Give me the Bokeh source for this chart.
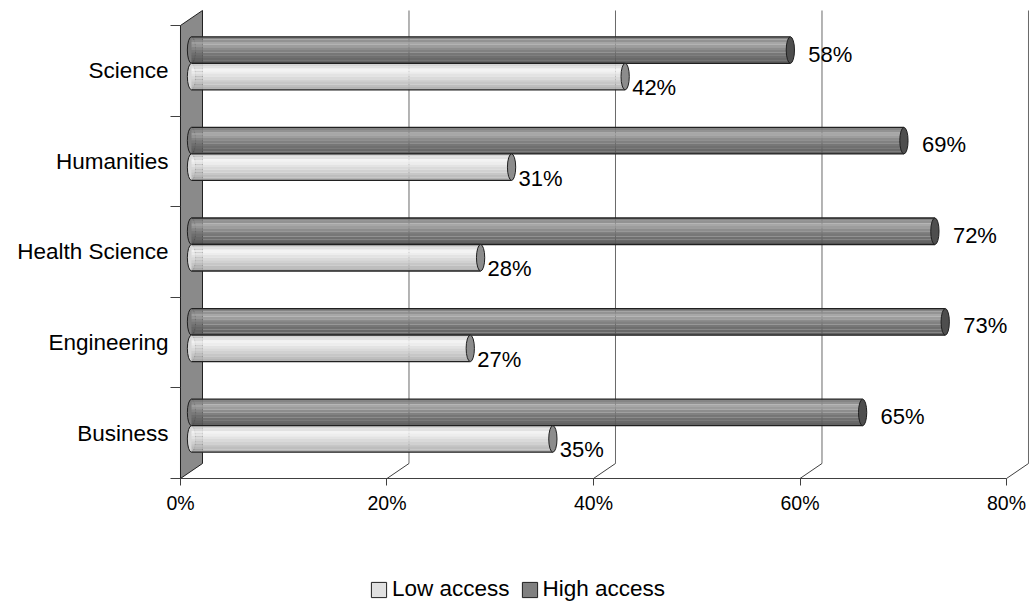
from bokeh.plotting import figure
from bokeh.models import (Range1d, FixedTicker, PrintfTickFormatter, Legend,
                          LegendItem, LinearAxis)
from bokeh.embed import file_html
from bokeh.resources import INLINE
from bokeh.core.properties import value

# ---- data ----
categories = ["Business", "Engineering", "Health Science", "Humanities", "Science"]
low_access = [35, 27, 28, 31, 42]
high_access = [65, 73, 72, 69, 58]
x_ticks = [0, 20, 40, 60, 80]
series_names = ["Low access", "High access"]

# ---- style ----
FONT = "Liberation Sans"
DX = 2.13       # depth offset (percent units)
DY = 0.1656     # depth offset (category units)
BAR_H = 0.2925  # one cylinder's thickness (category units)
CAP_W = 0.80    # cap ellipse width (percent units)
N = len(categories)
NAN = float("nan")

high_stripes = ["#7c7c7c", "#8a8a8a", "#a0a0a0", "#969696", "#848484",
                "#777777", "#6d6d6d", "#656565", "#5e5e5e", "#575757"]
low_stripes = ["#d2d2d2", "#e0e0e0", "#f2f2f2", "#ececec", "#e1e1e1",
               "#d7d7d7", "#cdcdcd", "#c3c3c3", "#b9b9b9", "#afafaf"]

p = figure(width=1030, height=603, output_backend="svg", toolbar_location=None,
           x_range=Range1d(-17.433, 82.324), y_range=Range1d(-1.8797, 4.7759),
           x_axis_location=None, y_axis_location=None, min_border=0)
p.grid.visible = False
p.outline_line_color = None
p.background_fill_color = "white"

# ---- axes ----
xa = LinearAxis(fixed_location=-0.5)
xa.ticker = FixedTicker(ticks=x_ticks)
xa.formatter = PrintfTickFormatter(format="%d%%")
xa.bounds = (x_ticks[0], x_ticks[-1])
xa.major_tick_out = 7
xa.major_tick_in = 0
xa.minor_tick_out = 0
xa.minor_tick_in = 0
xa.axis_line_color = "#404040"
xa.major_tick_line_color = "#404040"
xa.major_label_text_font = FONT
xa.major_label_text_font_size = "19.5px"
xa.major_label_text_color = "black"
xa.major_label_standoff = 7
p.add_layout(xa, "below")

ya = LinearAxis(fixed_location=0)
ya.ticker = FixedTicker(ticks=list(range(N)), minor_ticks=[i - 0.5 for i in range(N + 1)])
ya.major_label_overrides = {i: c for i, c in enumerate(categories)}
ya.bounds = (-0.5, N - 0.5)
ya.major_tick_out = 0
ya.major_tick_in = 0
ya.minor_tick_out = 10
ya.minor_tick_in = 0
ya.axis_line_color = "#202020"
ya.minor_tick_line_color = "#404040"
ya.major_label_text_font = FONT
ya.major_label_text_font_size = "22.5px"
ya.major_label_text_color = "black"
ya.major_label_standoff = 2
p.add_layout(ya, "left")

# ---- 3D wall & gridlines ----
p.patch(x=[0, DX, DX, 0], y=[N - 0.5, N - 0.5 + DY, -0.5 + DY, -0.5],
        fill_color="#8a8a8a", line_color="#202020", line_width=1)
gx = [t + DX for t in x_ticks[1:]]
p.segment(x0=gx, y0=[-0.5 + DY] * len(gx), x1=gx, y1=[N - 0.5 + DY] * len(gx),
          line_color="#6a6a6a", line_width=1)
p.segment(x0=x_ticks[1:], y0=[-0.5] * len(gx), x1=gx, y1=[-0.5 + DY] * len(gx),
          line_color="#404040", line_width=1)

# ---- cylinders ----
def cylinders(vals, centers, stripes, cap_color, body_color):
    x0 = DX / 2
    ends = [v + DX / 2 for v in vals]
    p.ellipse(x=[x0] * len(vals), y=centers, width=CAP_W, height=BAR_H,
              fill_color=body_color, line_color="#202020", line_width=1)
    k = len(stripes)
    sh = BAR_H / k
    for i, col in enumerate(stripes):
        ys = [c + BAR_H / 2 - (i + 0.5) * sh for c in centers]
        p.hbar(y=ys, height=sh * 1.04, left=x0, right=ends,
               fill_color=col, line_color=None, fill_alpha=0.93)
    p.segment(x0=[x0] * len(vals), y0=[c + BAR_H / 2 for c in centers], x1=ends,
              y1=[c + BAR_H / 2 for c in centers], line_color="#202020", line_width=1.3)
    p.segment(x0=[x0] * len(vals), y0=[c - BAR_H / 2 for c in centers], x1=ends,
              y1=[c - BAR_H / 2 for c in centers], line_color="#202020", line_width=1.3)
    p.ellipse(x=ends, y=centers, width=CAP_W, height=BAR_H,
              fill_color=cap_color, line_color="#202020", line_width=1)

high_centers = [i + DY / 2 + BAR_H / 2 for i in range(N)]
low_centers = [i + DY / 2 - BAR_H / 2 for i in range(N)]
cylinders(high_access, high_centers, high_stripes, "#4e4e4e", "#7a7a7a")
cylinders(low_access, low_centers, low_stripes, "#8c8c8c", "#d8d8d8")

# ---- data labels ----
p.text(x=[v + DX / 2 for v in high_access], y=high_centers,
       text=[f"{v}%" for v in high_access], x_offset=18, y_offset=4,
       text_baseline="middle", text_align="left", text_font=value(FONT),
       text_font_size="22px", text_color="black")
p.text(x=[v + DX / 2 for v in low_access], y=low_centers,
       text=[f"{v}%" for v in low_access], x_offset=7, y_offset=11,
       text_baseline="middle", text_align="left", text_font=value(FONT),
       text_font_size="22px", text_color="black")

# ---- legend (swatches only; hidden placeholder glyphs) ----
r_low = p.quad(left=[NAN], right=[NAN], top=[NAN], bottom=[NAN], fill_color="#e0e0e0",
               line_color="#202020", line_width=1)
r_high = p.quad(left=[NAN], right=[NAN], top=[NAN], bottom=[NAN], fill_color="#808080",
                line_color="#202020", line_width=1)
legend = Legend(items=[LegendItem(label=series_names[0], renderers=[r_low]),
                       LegendItem(label=series_names[1], renderers=[r_high])],
                location=(369, 1), orientation="horizontal",
                glyph_width=19, glyph_height=19, label_standoff=4, spacing=10,
                padding=0, margin=0, border_line_color=None,
                background_fill_alpha=0, label_text_font=FONT,
                label_text_font_size="22.5px", label_text_color="black")
p.add_layout(legend)

open("out.html", "w").write(file_html(p, INLINE))
